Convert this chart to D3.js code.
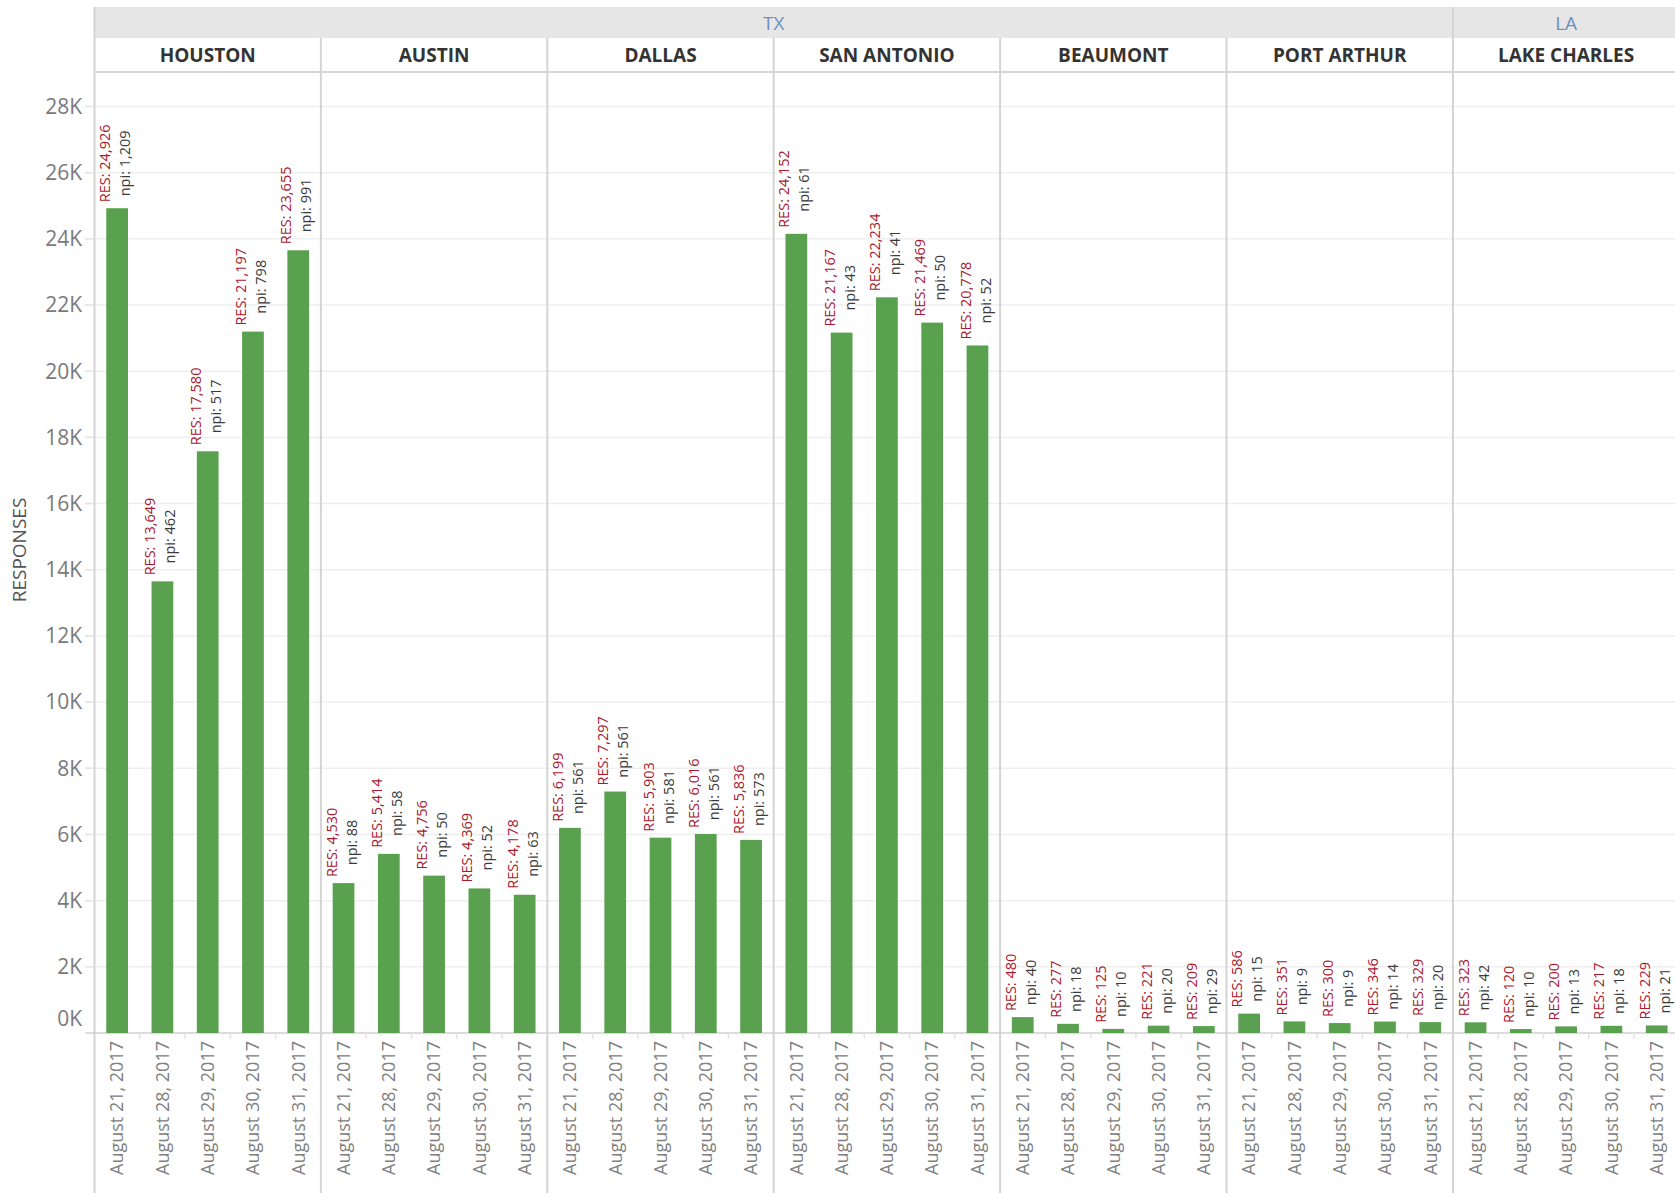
<!DOCTYPE html>
<html><head><meta charset="utf-8">
<script src="https://cdn.jsdelivr.net/npm/d3@7"></script>
<style>body{margin:0;background:#fff;} svg{display:block;font-family:"Open Sans",sans-serif;}</style>
</head><body><svg id="chart" width="1675" height="1193"></svg>
<script>
// ---- data ----
const states = ["TX", "LA"];
const cities = ["HOUSTON", "AUSTIN", "DALLAS", "SAN ANTONIO", "BEAUMONT", "PORT ARTHUR", "LAKE CHARLES"];
const cityState = ["TX", "TX", "TX", "TX", "TX", "TX", "LA"];
const dates = ["August 21, 2017", "August 28, 2017", "August 29, 2017", "August 30, 2017", "August 31, 2017"];
const responses = [
  [24926, 13649, 17580, 21197, 23655],
  [4530, 5414, 4756, 4369, 4178],
  [6199, 7297, 5903, 6016, 5836],
  [24152, 21167, 22234, 21469, 20778],
  [480, 277, 125, 221, 209],
  [586, 351, 300, 346, 329],
  [323, 120, 200, 217, 229]
];
const npi = [
  [1209, 462, 517, 798, 991],
  [88, 58, 50, 52, 63],
  [561, 561, 581, 561, 573],
  [61, 43, 41, 50, 52],
  [40, 18, 10, 20, 29],
  [15, 9, 9, 14, 20],
  [42, 10, 13, 18, 21]
];
const yTicks = [0, 2000, 4000, 6000, 8000, 10000, 12000, 14000, 16000, 18000, 20000, 22000, 24000, 26000, 28000];
const yTitle = "RESPONSES";

// ---- layout ----
const W = 1675, H = 1193;
const plotLeft = 94.5, panelW = 226.4;
const bandTop = 7, bandBottom = 38, headerBottom = 72, baseY = 1033;
const svg = d3.select("#chart");
const fmt = d3.format(",");

const panel = d3.scaleBand().domain(cities).range([plotLeft, plotLeft + cities.length * panelW]).padding(0);
const x = d3.scaleBand().domain(dates).range([0, panelW]).paddingInner(0.52).paddingOuter(0.26);
const y = d3.scaleLinear().domain([0, 28000]).range([baseY, 106.5]);

// state band
svg.append("rect").attr("x", plotLeft).attr("y", bandTop).attr("width", W - plotLeft)
  .attr("height", bandBottom - bandTop).attr("fill", "#e6e6e6");

states.forEach(s => {
  const cs = cities.filter((c, i) => cityState[i] === s);
  const x0 = panel(cs[0]), x1 = panel(cs[cs.length - 1]) + panelW;
  svg.append("text").attr("x", (x0 + x1) / 2).attr("y", (bandTop + bandBottom) / 2 + 1).attr("dy", "0.35em")
    .attr("text-anchor", "middle").attr("fill", "#6d8fc0").attr("font-size", 19).text(s);
});

// gridlines
svg.append("g").selectAll("line").data(yTicks.filter(t => t > 0)).join("line")
  .attr("x1", 85).attr("x2", W).attr("y1", d => y(d)).attr("y2", d => y(d))
  .attr("stroke", "#efefef").attr("stroke-width", 1.5);

// header row
svg.append("g").selectAll("text").data(cities).join("text")
  .attr("x", d => panel(d) + panelW / 2).attr("y", (bandBottom + headerBottom) / 2).attr("dy", "0.35em")
  .attr("text-anchor", "middle").attr("fill", "#333").attr("font-size", 19).attr("font-weight", "bold")
  .text(d => d);
svg.append("line").attr("x1", plotLeft).attr("x2", W).attr("y1", headerBottom).attr("y2", headerBottom)
  .attr("stroke", "#d6d6d6").attr("stroke-width", 2);

// panel separators
cities.forEach((c, i) => {
  const xx = panel(c);
  const top = (i === 0 || cityState[i] !== cityState[i - 1]) ? bandTop : bandBottom;
  svg.append("line").attr("x1", xx).attr("x2", xx).attr("y1", top).attr("y2", H)
    .attr("stroke", "#d4d4d4").attr("stroke-width", 2);
});

// baseline
svg.append("line").attr("x1", 85).attr("x2", W).attr("y1", baseY).attr("y2", baseY)
  .attr("stroke", "#d0d0d0").attr("stroke-width", 1.5);

// y axis labels
svg.append("g").selectAll("text").data(yTicks).join("text")
  .attr("x", 82).attr("y", d => y(d) - (d === 0 ? 14 : 0)).attr("dy", "0.35em")
  .attr("text-anchor", "end").attr("fill", "#7a7a7a").attr("font-size", 21)
  .text(d => (d / 1000) + "K");
svg.append("g").selectAll("line").data(yTicks.filter(t => t > 0)).join("line")
  .attr("x1", 85).attr("x2", plotLeft).attr("y1", d => y(d)).attr("y2", d => y(d))
  .attr("stroke", "#e4e4e4").attr("stroke-width", 1.5);

svg.append("text").attr("transform", "translate(19,550) rotate(-90)").attr("dy", "0.35em")
  .attr("text-anchor", "middle").attr("fill", "#555").attr("font-size", 19).text(yTitle);

// panels
cities.forEach((c, ci) => {
  const g = svg.append("g").attr("transform", `translate(${panel(c)},0)`);
  const rows = dates.map((d, di) => ({ d, v: responses[ci][di], n: npi[ci][di] }));

  g.selectAll("rect").data(rows).join("rect")
    .attr("x", r => x(r.d)).attr("width", x.bandwidth())
    .attr("y", r => y(r.v)).attr("height", r => baseY - y(r.v))
    .attr("fill", "#59a14f");

  // small ticks between bands
  g.selectAll("line.tk").data(dates.slice(1)).join("line").attr("class", "tk")
    .attr("x1", d => x(d) - (x.step() - x.bandwidth()) / 2).attr("x2", d => x(d) - (x.step() - x.bandwidth()) / 2)
    .attr("y1", baseY).attr("y2", baseY + 6).attr("stroke", "#e3e3e3").attr("stroke-width", 1.5);

  // x labels
  g.selectAll("text.xl").data(dates).join("text").attr("class", "xl")
    .attr("transform", d => `translate(${x(d) + x.bandwidth() / 2},1041) rotate(-90)`)
    .attr("dy", "0.35em").attr("text-anchor", "end").attr("fill", "#808080").attr("font-size", 18)
    .text(d => d);

  // data labels
  rows.forEach(r => {
    const cx = x(r.d) + x.bandwidth() / 2;
    const t1 = g.append("text").attr("text-anchor", "middle").attr("dy", "0.35em")
      .attr("fill", "#a8192e").attr("font-size", 14.5).text("RES: " + fmt(r.v));
    const t2 = g.append("text").attr("text-anchor", "middle").attr("dy", "0.35em")
      .attr("fill", "#3b3b3b").attr("font-size", 14.5).text("npi: " + fmt(r.n));
    const L = Math.max(t1.node().getComputedTextLength(), t2.node().getComputedTextLength());
    const cy = y(r.v) - 6 - L / 2;
    t1.attr("transform", `translate(${cx - 12},${cy}) rotate(-90)`);
    t2.attr("transform", `translate(${cx + 8},${cy}) rotate(-90)`);
  });
});
</script></body></html>
